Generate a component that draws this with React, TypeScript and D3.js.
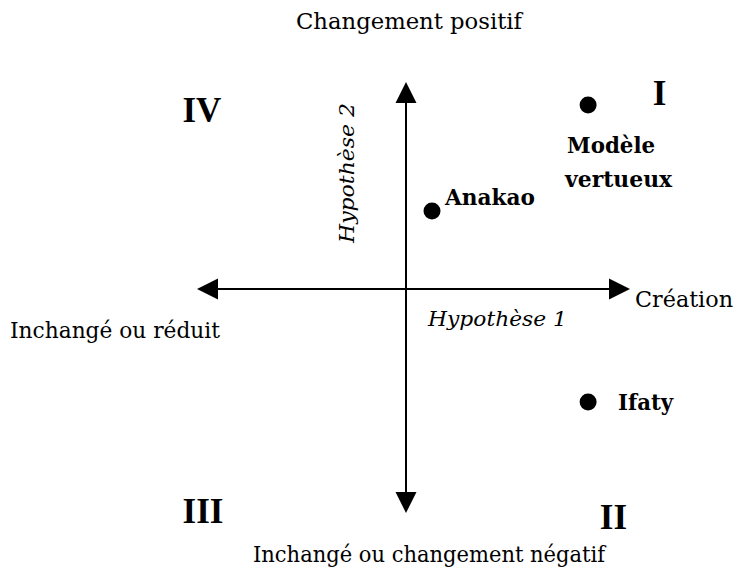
import * as d3 from "d3"

// positions in the diagram's own units: x = Hypothèse 1, y = Hypothèse 2
const pointNames = ["Modèle vertueux", "Anakao", "Ifaty"]
const pointX = [0.847, 0.121, 0.847]
const pointY = [0.856, 0.363, -0.526]

const axisExtentX = [-0.972, 1.042]
const axisExtentY = [-1.042, 0.963]

const quadrantNames = ["I", "II", "III", "IV"]
const quadrantX = [1.179, 0.965, -0.944, -0.949]
const quadrantY = [0.856, -1.116, -1.088, 0.777]

export default function App() {
  const width = 737
  const height = 576

  const x = d3.scaleLinear().domain([-1, 1]).range([191, 621])
  const y = d3.scaleLinear().domain([-1, 1]).range([504, 74])

  const x0 = x(0)
  const y0 = y(0)
  const serif = "'DejaVu Serif', 'Liberation Serif', serif"

  const arrow = (tipX: number, tipY: number, dir: string) => {
    const L = 21
    const W = 10.5
    let pts: [number, number][] = []
    if (dir === "left") pts = [[tipX, tipY], [tipX + L, tipY - W], [tipX + L, tipY + W]]
    if (dir === "right") pts = [[tipX, tipY], [tipX - L, tipY - W], [tipX - L, tipY + W]]
    if (dir === "up") pts = [[tipX, tipY], [tipX - W, tipY + L], [tipX + W, tipY + L]]
    if (dir === "down") pts = [[tipX, tipY], [tipX - W, tipY - L], [tipX + W, tipY - L]]
    return <path d={d3.line()(pts) + "Z"} fill="#000" />
  }

  const mx = x(pointX[0])
  const my = y(pointY[0])

  return (
    <svg
      width={width}
      height={height}
      style={{ position: "absolute", left: 0, top: 0, background: "#fff" }}
      fontFamily={serif}
    >
      {/* axes */}
      <line x1={x(axisExtentX[0]) + 10} x2={x(axisExtentX[1]) - 10} y1={y0} y2={y0} stroke="#000" strokeWidth={2} />
      <line x1={x0} x2={x0} y1={y(axisExtentY[1]) + 10} y2={y(axisExtentY[0]) - 10} stroke="#000" strokeWidth={2} />
      {arrow(x(axisExtentX[0]), y0, "left")}
      {arrow(x(axisExtentX[1]), y0, "right")}
      {arrow(x0, y(axisExtentY[1]), "up")}
      {arrow(x0, y(axisExtentY[0]), "down")}

      {/* axis labels */}
      <text x={296} y={29} fontSize={22} textLength={226} lengthAdjust="spacingAndGlyphs">Changement positif</text>
      <text x={253} y={562} fontSize={22} textLength={352} lengthAdjust="spacingAndGlyphs">Inchangé ou changement négatif</text>
      <text x={635} y={307} fontSize={22} textLength={98} lengthAdjust="spacingAndGlyphs">Création</text>
      <text x={10} y={338} fontSize={22} textLength={210} lengthAdjust="spacingAndGlyphs">Inchangé ou réduit</text>
      <text x={428} y={326} fontSize={21} fontStyle="italic" textLength={139} lengthAdjust="spacingAndGlyphs">
        Hypothèse 1
      </text>
      <text
        transform={`translate(354,243) rotate(-90)`}
        fontSize={21}
        fontStyle="italic"
        textLength={140}
        lengthAdjust="spacingAndGlyphs"
      >
        Hypothèse 2
      </text>

      {/* quadrants */}
      {quadrantNames.map((q, i) => (
        <text
          key={q}
          x={x(quadrantX[i])}
          y={y(quadrantY[i])}
          fontSize={35}
          fontFamily="'Liberation Serif', serif"
          fontWeight="bold"
          textAnchor="middle"
        >
          {q}
        </text>
      ))}

      {/* points */}
      {pointNames.map((n, i) => (
        <circle key={n} cx={x(pointX[i])} cy={y(pointY[i])} r={8.5} fill="#000" />
      ))}
      <text fontSize={22} fontWeight="bold" x={mx - 21} y={my + 48} textLength={88} lengthAdjust="spacingAndGlyphs">
        Modèle
      </text>
      <text fontSize={22} fontWeight="bold" x={mx - 23} y={my + 82} textLength={107} lengthAdjust="spacingAndGlyphs">
        vertueux
      </text>
      <text
        fontSize={22}
        fontWeight="bold"
        x={x(pointX[1]) + 13}
        y={y(pointY[1]) - 6}
        textLength={90}
        lengthAdjust="spacingAndGlyphs"
      >
        {pointNames[1]}
      </text>
      <text
        fontSize={22}
        fontWeight="bold"
        x={x(pointX[2]) + 30}
        y={y(pointY[2]) + 8}
        textLength={55}
        lengthAdjust="spacingAndGlyphs"
      >
        {pointNames[2]}
      </text>
    </svg>
  )
}
